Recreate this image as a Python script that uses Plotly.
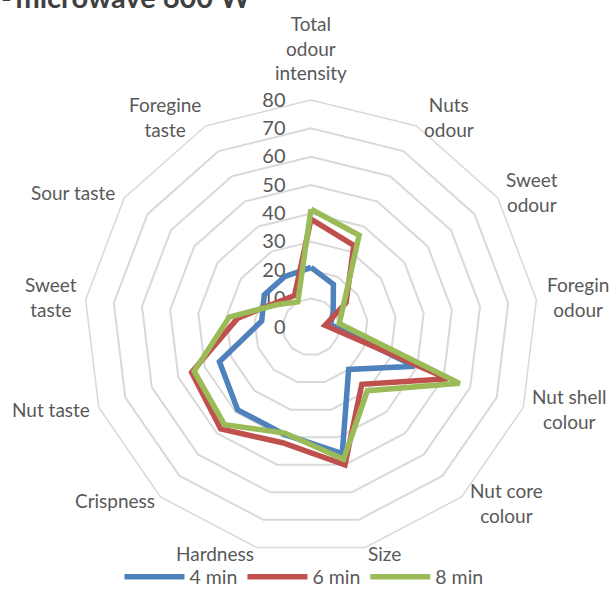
import plotly.graph_objects as go

categories = ["Total odour intensity", "Nuts odour", "Sweet odour", "Foregin odour",
              "Nut shell colour", "Nut core colour", "Size", "Hardness", "Crispness",
              "Nut taste", "Sweet taste", "Sour taste", "Foregine taste"]
category_labels = ["Total<br>odour<br>intensity", "Nuts<br>odour", "Sweet<br>odour", "Foregin<br>odour",
                   "Nut shell<br>colour", "Nut core<br>colour", "Size", "Hardness", "Crispness",
                   "Nut taste", "Sweet<br>taste", "Sour taste", "Foregine<br>taste"]
min4 = [21, 17, 9.5, 7, 39, 20, 46, 39, 39, 34.5, 17.5, 20, 20]
min6 = [38, 32.5, 15, 5, 51.5, 27, 50, 42, 48, 45, 26, 15, 12.5]
min8 = [41.5, 36.5, 14, 10, 56, 30, 48, 38.5, 46, 44, 29, 14, 10]
series_names = ["4 min", "6 min", "8 min"]
colors = ["#4F81BD", "#C0504D", "#9BBB59"]
radial_ticks = [0, 10, 20, 30, 40, 50, 60, 70, 80]
title_text = "<b>-\u2009microwave 600 W</b>"

W, H = 611, 612

# label placement in page pixels (layout only)
label_pos = [(311, 48), (449, 117), (532, 192), (578, 297), (569, 409), (506, 503),
             (384, 553), (215, 553), (115, 500), (51, 409), (51, 297), (73, 192), (165, 117)]


def px(x):
    return x / W


def py(y):
    return 1 - y / H


fig = go.Figure()
for name, vals, col in zip(series_names, [min4, min6, min8], colors):
    fig.add_trace(go.Scatterpolar(
        r=vals + vals[:1], theta=categories + categories[:1],
        mode="lines", name=name,
        line=dict(color=col, width=5.5),
    ))

font_family = "Lato, 'Open Sans', sans-serif"
annotations = []
for lab, (lx, ly) in zip(category_labels, label_pos):
    annotations.append(dict(text=lab, x=px(lx), y=py(ly), xref="paper", yref="paper",
                            xanchor="center", yanchor="middle", showarrow=False, align="center",
                            font=dict(size=19, color="#595959", family=font_family)))
annotations.append(dict(text=title_text, x=px(0), y=py(-4), xref="paper", yref="paper",
                        xanchor="left", yanchor="middle", showarrow=False, xshift=-1,
                        font=dict(size=29, color="#404040", family=font_family)))

cx, cy, R = 311, 327, 227
fig.update_layout(
    width=W, height=H,
    margin=dict(l=0, r=0, t=0, b=0),
    paper_bgcolor="white", plot_bgcolor="white",
    font=dict(family=font_family, color="#595959", size=19),
    annotations=annotations,
    polar=dict(
        domain=dict(x=[px(cx - R), px(cx + R)], y=[py(cy + R), py(cy - R)]),
        bgcolor="white",
        gridshape="linear",
        radialaxis=dict(range=[0, 80], tickvals=radial_ticks, ticktext=[str(v) for v in radial_ticks],
                        angle=90, tickangle=90, showline=False, ticks="outside", ticklen=18,
                        tickcolor="rgba(0,0,0,0)", gridcolor="#D9D9D9", gridwidth=1.5,
                        tickfont=dict(size=20, color="#595959"), side="counterclockwise",
                        layer="below traces"),
        angularaxis=dict(type="category", categoryorder="array", categoryarray=categories,
                         rotation=90, direction="clockwise", showticklabels=False,
                         showgrid=False, showline=True, linecolor="#D9D9D9", linewidth=1.5,
                         ticks="", layer="below traces"),
    ),
    legend=dict(orientation="h", x=px(304), xanchor="center", y=py(577), yanchor="middle",
                font=dict(size=19.5, color="#595959"), itemwidth=60, tracegroupgap=0),
)
fig.write_html("out.html", config={"displayModeBar": False},
               post_script="document.body.style.margin='0';document.body.style.overflow='hidden';")
